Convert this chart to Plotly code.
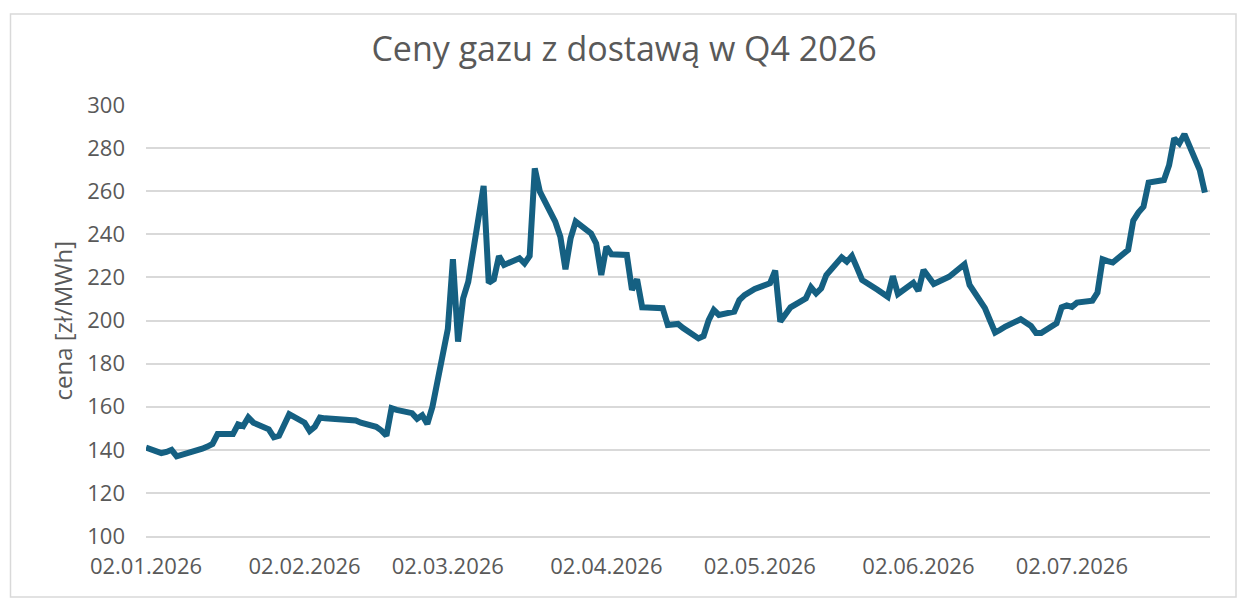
import pandas as pd
import plotly.graph_objects as go

# ---- data (business days) ----
jan = [141, 138.5, 139, 140, 137, 137.6, 140, 140.5, 141.5, 142.7, 147.3,
       147.3, 151.8, 151, 155, 152.6, 149.5, 145.8, 146.5, 151.5, 156.5]
feb = [152.6, 148.7, 150.7, 155, 154.6, 153.9, 153.8, 153.8, 153.6, 152.6,
       150.7, 149, 146.5, 159.3, 158.5, 157, 154.4, 156, 152, 160]
mar = [196, 228.4, 190.2, 210.3, 218, 262.4, 217.5, 219.1, 229.9, 225.8,
       228.9, 226.5, 229.9, 270.6, 259.8, 245.9, 238.9, 223.8, 238.1, 245.9,
       240.4, 235.8]
apr = [221.1, 234.2, 230.7, 230.4, 214.2, 219.1, 206.1, 206, 205.7, 197.9,
       198.2, 198.4, 196.5, 191.7, 192.8, 200.2, 204.9, 202.6, 204.1, 209.5,
       211.8, 213.6]
may = [214.6, 217.3, 223.2, 199.5, 202.8, 206.1, 210.3, 215.4, 212.6, 214.9,
       221.1, 229.3, 227.3, 229.9, 224.4, 218.8, 214.3, 212.7, 211, 220.6, 212.3]
jun = [217.5, 213.8, 223.4, 220.1, 216.9, 220.3, 222.5, 224.6, 226.1, 216.5,
       205.7, 200, 194.4, 195.7, 197.2, 200.6, 199, 197.5, 194.2, 194.2,
       198.7, 206.1]
jul = [207, 206.3, 208.3, 209.2, 212.9, 228.4, 227.6, 226.9, 232.8, 246.4,
       250.1, 252.8, 264, 265.2, 272, 284.5, 282.2, 286.5, 269.8, 259.3]

month_ranges = [("2026-01-02", "2026-01-31", jan), ("2026-02-01", "2026-02-28", feb),
                ("2026-03-01", "2026-03-31", mar), ("2026-04-01", "2026-04-30", apr),
                ("2026-05-01", "2026-05-31", may), ("2026-06-01", "2026-06-30", jun),
                ("2026-07-01", "2026-07-28", jul)]

dates, prices = [], []
for start, end, vals in month_ranges:
    d = pd.bdate_range(start, end)
    assert len(d) == len(vals), (start, len(d), len(vals))
    dates.extend(d)
    prices.extend(vals)

tick_dates = ["2026-01-02", "2026-02-02", "2026-03-02", "2026-04-02",
              "2026-05-02", "2026-06-02", "2026-07-02"]
tick_labels = ["02.01.2026", "02.02.2026", "02.03.2026", "02.04.2026",
               "02.05.2026", "02.06.2026", "02.07.2026"]

title_text = "Ceny gazu z dostawą w Q4 2026"
y_title = "cena [zł/MWh]"

TXT = "#595959"
GRID = "#d9d9d9"
FONT = "Open Sans"

fig = go.Figure()
fig.add_trace(go.Scatter(x=dates, y=prices, mode="lines",
                         line=dict(color="#156082", width=6),
                         hoverinfo="x+y", showlegend=False))

W, H = 1248, 604
L, R, T, B = 146, 1210, 105, 536
pw, ph = R - L, B - T

fig.update_layout(
    width=W, height=H,
    margin=dict(l=L, r=W - R, t=T, b=H - B),
    paper_bgcolor="white", plot_bgcolor="white",
    title=dict(text=title_text, x=0.5, xanchor="center", xref="container",
               y=1 - 49 / H, yanchor="middle", yref="container",
               font=dict(family=FONT, size=34, color=TXT)),
    xaxis=dict(type="date", range=["2026-01-02", "2026-07-29"],
               tickvals=tick_dates, ticktext=tick_labels,
               showgrid=False, zeroline=False, ticks="",
               showline=True, linecolor=GRID, linewidth=1.8,
               ticklabelstandoff=10,
               tickfont=dict(family=FONT, size=22, color=TXT)),
    yaxis=dict(range=[100, 300], dtick=20, tick0=100,
               showgrid=True, gridcolor=GRID, gridwidth=1.8,
               zeroline=False, ticks="", showline=False,
               ticklabelstandoff=20,
               tickfont=dict(family=FONT, size=22, color=TXT)),
    shapes=[dict(type="rect", xref="paper", yref="paper",
                 x0=(10.5 - L) / pw, x1=(1236 - L) / pw,
                 y0=(B - 597) / ph, y1=(B - 14) / ph,
                 line=dict(color=GRID, width=1.5), fillcolor="rgba(0,0,0,0)",
                 layer="below")],
    annotations=[dict(text=y_title, xref="paper", yref="paper",
                      x=(62 - L) / pw, y=0.5, xanchor="center", yanchor="middle",
                      textangle=-90, showarrow=False,
                      font=dict(family=FONT, size=24, color=TXT))],
)

fig.write_html("out.html",
               config={"displayModeBar": False},
               post_script="document.body.style.margin='0';"
                           "document.body.style.overflow='hidden';")
